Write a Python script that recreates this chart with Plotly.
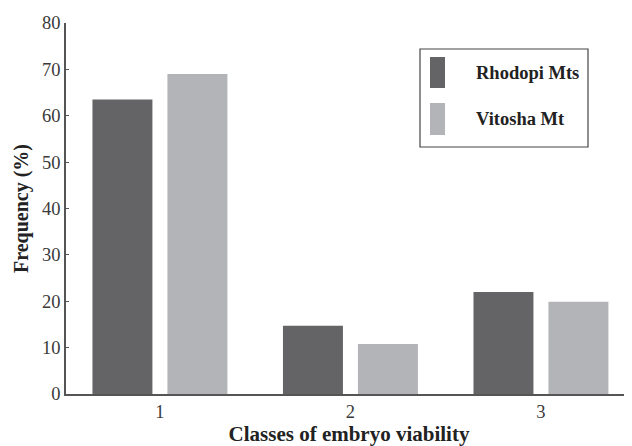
import plotly.graph_objects as go

categories = ["1", "2", "3"]
series_names = ["Rhodopi Mts", "Vitosha Mt"]
rhodopi = [63.5, 14.7, 22.0]
vitosha = [69.0, 10.8, 19.9]
y_ticks = [0, 10, 20, 30, 40, 50, 60, 70, 80]

colors = ["#646466", "#b3b4b7"]
font_family = "Liberation Serif, Times New Roman, serif"

# page body has an 8px margin; plot area in page: x 66..632, y 23..394
PX0, PX1, PY0, PY1 = 66, 632, 23, 394


def px(x):
    return (x - PX0) / (PX1 - PX0)


def py(y):
    return (PY1 - y) / (PY1 - PY0)


fig = go.Figure()
for name, vals, col in zip(series_names, [rhodopi, vitosha], colors):
    fig.add_trace(go.Bar(
        x=categories, y=vals, name=name,
        marker=dict(color=col, line=dict(width=0)),
        showlegend=False,
    ))

# Manual legend box resembling the original (tall colour swatches)
fig.add_shape(type="rect", xref="paper", yref="paper",
              x0=px(420), x1=px(588), y0=py(147), y1=py(49),
              line=dict(color="#444444", width=1.2), fillcolor="white")
swatch_rows = [(57, 88), (103, 135)]
for (top, bot), col, name in zip(swatch_rows, colors, series_names):
    fig.add_shape(type="rect", xref="paper", yref="paper",
                  x0=px(430), x1=px(445), y0=py(bot), y1=py(top),
                  line=dict(width=0), fillcolor=col)
    fig.add_annotation(xref="paper", yref="paper",
                       x=px(474), y=py((top + bot) / 2),
                       text="<b>" + name + "</b>", showarrow=False,
                       xanchor="left", yanchor="middle",
                       font=dict(family=font_family, size=18.5, color="#222222"))

fig.update_layout(
    width=624, height=438,
    margin=dict(l=58, r=0, t=15, b=52),
    paper_bgcolor="white", plot_bgcolor="white",
    barmode="group", bargap=0.213, bargroupgap=0.2,
    font=dict(family=font_family, size=18, color="#3a3a3a"),
)
fig.update_xaxes(
    type="category", range=[-0.493, 2.478],
    showline=True, linecolor="#555555", linewidth=1.5,
    ticks="", showgrid=False, zeroline=False,
    tickfont=dict(size=18.5, color="#3a3a3a"),
    title=dict(text="<b>Classes of embryo viability</b>", standoff=1,
               font=dict(size=21, color="#222222")),
)
fig.update_yaxes(
    range=[0, 80], tickvals=y_ticks,
    showline=True, linecolor="#555555", linewidth=1.5,
    ticks="inside", ticklen=3, tickcolor="#555555",
    showgrid=False, zeroline=False,
    tickfont=dict(size=18.5, color="#3a3a3a"),
    title=dict(text="<b>Frequency (%)</b>", standoff=8,
               font=dict(size=20, color="#222222")),
)

fig.write_html("out.html")
